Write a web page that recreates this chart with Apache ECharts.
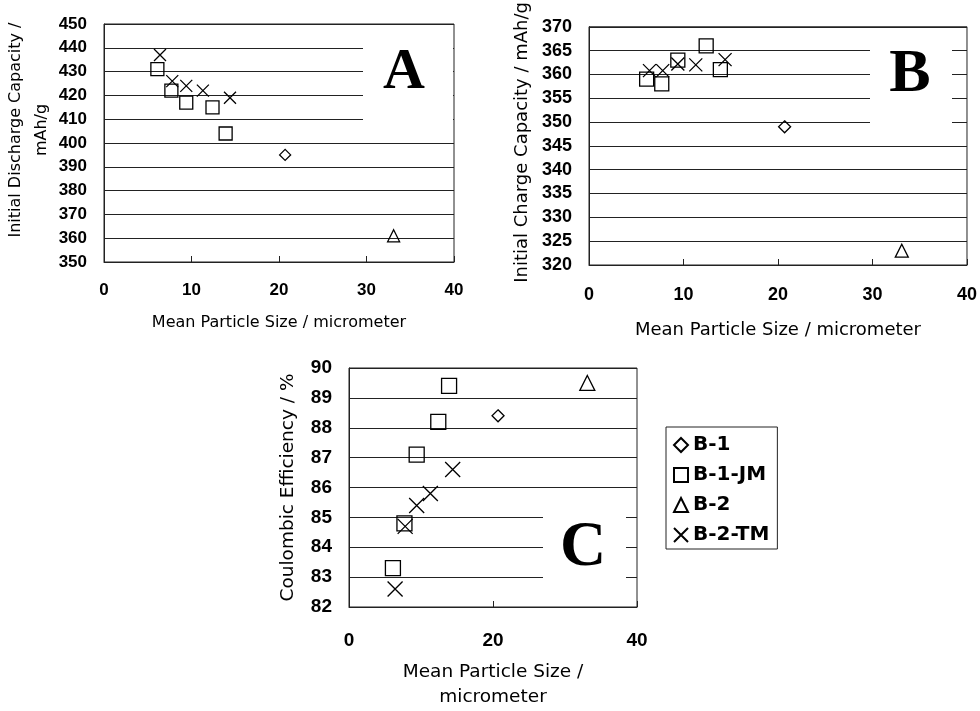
<!DOCTYPE html>
<html>
<head>
<meta charset="utf-8">
<script src="https://cdn.jsdelivr.net/npm/echarts@6/dist/echarts.min.js"></script>
<style>
  html, body { margin: 0; background: #fff; }
  #chart { width: 980px; height: 711px; }
</style>
</head>
<body>
<div id="chart"></div>
<script>
// mean particle size / micrometer
const sizeB1 = [20.7];
const sizeB1JM = [6.1, 7.7, 9.4, 12.4, 13.9];
const sizeB2 = [33.1];
const sizeB2TM = [6.4, 7.8, 9.4, 11.3, 14.4];

// A: initial discharge capacity / mAh/g
const dischargeB1 = [395];
const dischargeB1JM = [431, 422, 417, 415, 404];
const dischargeB2 = [361];
const dischargeB2TM = [437, 426, 424, 422, 419];

// B: initial charge capacity / mAh/g
const chargeB1 = [349];
const chargeB1JM = [359, 358, 363, 366, 361];
const chargeB2 = [323];
const chargeB2TM = [360.8, 360.8, 362.2, 362, 363.1];

// C: coulombic efficiency / %
const effB1 = [88.4];
const effB1JM = [83.3, 84.8, 87.1, 88.2, 89.4];
const effB2 = [89.5];
const effB2TM = [82.6, 84.7, 85.4, 85.8, 86.6];

const seriesNames = ['B-1', 'B-1-JM', 'B-2', 'B-2-TM'];
const xTicksAB = [0, 10, 20, 30, 40];
const xTicksC = [0, 20, 40];

const INK = '#222';
const pts = (xs, ys) => xs.map((x, i) => [x, ys[i]]);

const marks = {
    'B-1': { symbol: 'diamond' },
    'B-1-JM': { symbol: 'rect' },
    'B-2': { symbol: 'triangle' },
    'B-2-TM': { symbol: 'path://M0,0L10,10M10,0L0,10' }
};

// symbol sizes per panel (C is printed larger)
const sizes = [
    { 'B-1': 11, 'B-1-JM': 13, 'B-2': 12, 'B-2-TM': 12 },
    { 'B-1': 12, 'B-1-JM': 14, 'B-2': 13, 'B-2-TM': 13 },
    { 'B-1': 12, 'B-1-JM': 15, 'B-2': 15, 'B-2-TM': 15 }
];

const panels = [
    [pts(sizeB1, dischargeB1), pts(sizeB1JM, dischargeB1JM), pts(sizeB2, dischargeB2), pts(sizeB2TM, dischargeB2TM)],
    [pts(sizeB1, chargeB1), pts(sizeB1JM, chargeB1JM), pts(sizeB2, chargeB2), pts(sizeB2TM, chargeB2TM)],
    [pts(sizeB1, effB1), pts(sizeB1JM, effB1JM), pts(sizeB2, effB2), pts(sizeB2TM, effB2TM)]
];

const series = [];
panels.forEach((sets, p) => {
    sets.forEach((data, k) => {
        const name = seriesNames[k];
        series.push({
            name: name,
            type: 'scatter',
            xAxisIndex: p,
            yAxisIndex: p,
            symbol: marks[name].symbol,
            symbolSize: sizes[p][name],
            itemStyle: { color: 'rgba(255,255,255,0)', borderColor: '#000', borderWidth: 1.3, opacity: 1 },
            emphasis: { disabled: true },
            data: data
        });
    });
});

const tickFont = (size) => ({
    color: '#000', fontFamily: 'Liberation Sans', fontWeight: 'bold', fontSize: size
});

function xAxisFor(grid, interval, ticks, font, margin, name, gap, titleSize) {
    return {
        gridIndex: grid, type: 'value', min: ticks[0], max: ticks[ticks.length - 1], interval: interval,
        axisLine: { lineStyle: { color: INK, width: 1 } },
        axisTick: { inside: true, length: 6, lineStyle: { color: INK } },
        splitLine: { show: false },
        axisLabel: Object.assign({ margin: margin }, tickFont(font)),
        name: name, nameLocation: 'middle', nameGap: gap,
        nameTextStyle: { color: '#000', fontFamily: 'DejaVu Sans', fontSize: titleSize, lineHeight: 25 }
    };
}

function yAxisFor(grid, min, max, interval, font, name, gap, titleSize, pad) {
    return {
        gridIndex: grid, type: 'value', min: min, max: max, interval: interval,
        axisLine: { lineStyle: { color: INK, width: 1 } },
        axisTick: { show: false },
        splitLine: { lineStyle: { color: INK, width: 1 } },
        axisLabel: Object.assign({ margin: 17 }, tickFont(font)),
        name: name, nameLocation: 'middle', nameGap: gap,
        nameTextStyle: { color: '#000', fontFamily: 'DejaVu Sans', fontSize: titleSize, lineHeight: 26, padding: pad }
    };
}

const letter = (ch, x, y, size, box) => [
    { type: 'rect', z: 10, shape: box, style: { fill: '#fff' } },
    { type: 'text', z: 11, x: x, y: y,
      style: { text: ch, fill: '#000', font: 'bold ' + size + 'px "Liberation Serif"', textAlign: 'center', textVerticalAlign: 'middle' } }
];

const option = {
    backgroundColor: '#fff',
    animation: false,
    grid: [
        { left: 104, top: 24, width: 350, height: 238, show: true, borderColor: INK, borderWidth: 1 },
        { left: 589, top: 24, width: 379, height: 241, show: true, borderColor: INK, borderWidth: 1 },
        { left: 349, top: 368, width: 288, height: 241, show: true, borderColor: INK, borderWidth: 1 }
    ],
    xAxis: [
        xAxisFor(0, 10, xTicksAB, 17, 20, 'Mean Particle Size / micrometer', 48, 16),
        xAxisFor(1, 10, xTicksAB, 18, 21, 'Mean Particle Size / micrometer', 53, 18),
        xAxisFor(2, 20, xTicksC, 19, 24, 'Mean Particle Size /\nmicrometer', 53, 18.5)
    ],
    yAxis: [
        yAxisFor(0, 350, 450, 10, 17, 'Initial Discharge Capacity /\nmAh/g', 45, 16, [0, 0, 0, 26]),
        yAxisFor(1, 320, 370, 5, 18, 'Initial Charge Capacity / mAh/g', 54, 18, [0, 0, 0, 7]),
        yAxisFor(2, 82, 90, 1, 19, 'Coulombic Efficiency / %', 48, 18.5, [0, 0, 0, 0])
    ],
    legend: {
        orient: 'vertical',
        left: 666, top: 427,
        data: seriesNames,
        itemWidth: 14, itemHeight: 14, itemGap: 10,
        padding: [8, 8, 4, 7],
        borderColor: INK, borderWidth: 1,
        selectedMode: false,
        textStyle: { color: '#000', fontFamily: 'DejaVu Sans', fontWeight: 'bold', fontSize: 20, lineHeight: 20 }
    },
    graphic: [].concat(
        letter('A', 404, 73, 58, { x: 363, y: 30, width: 90, height: 96 }),
        letter('B', 910, 75, 62, { x: 870, y: 40, width: 82, height: 88 }),
        letter('C', 583, 548, 64, { x: 543, y: 505, width: 83, height: 90 })
    ),
    series: series
};

const chart = echarts.init(document.getElementById('chart'));
chart.setOption(option);
</script>
</body>
</html>
